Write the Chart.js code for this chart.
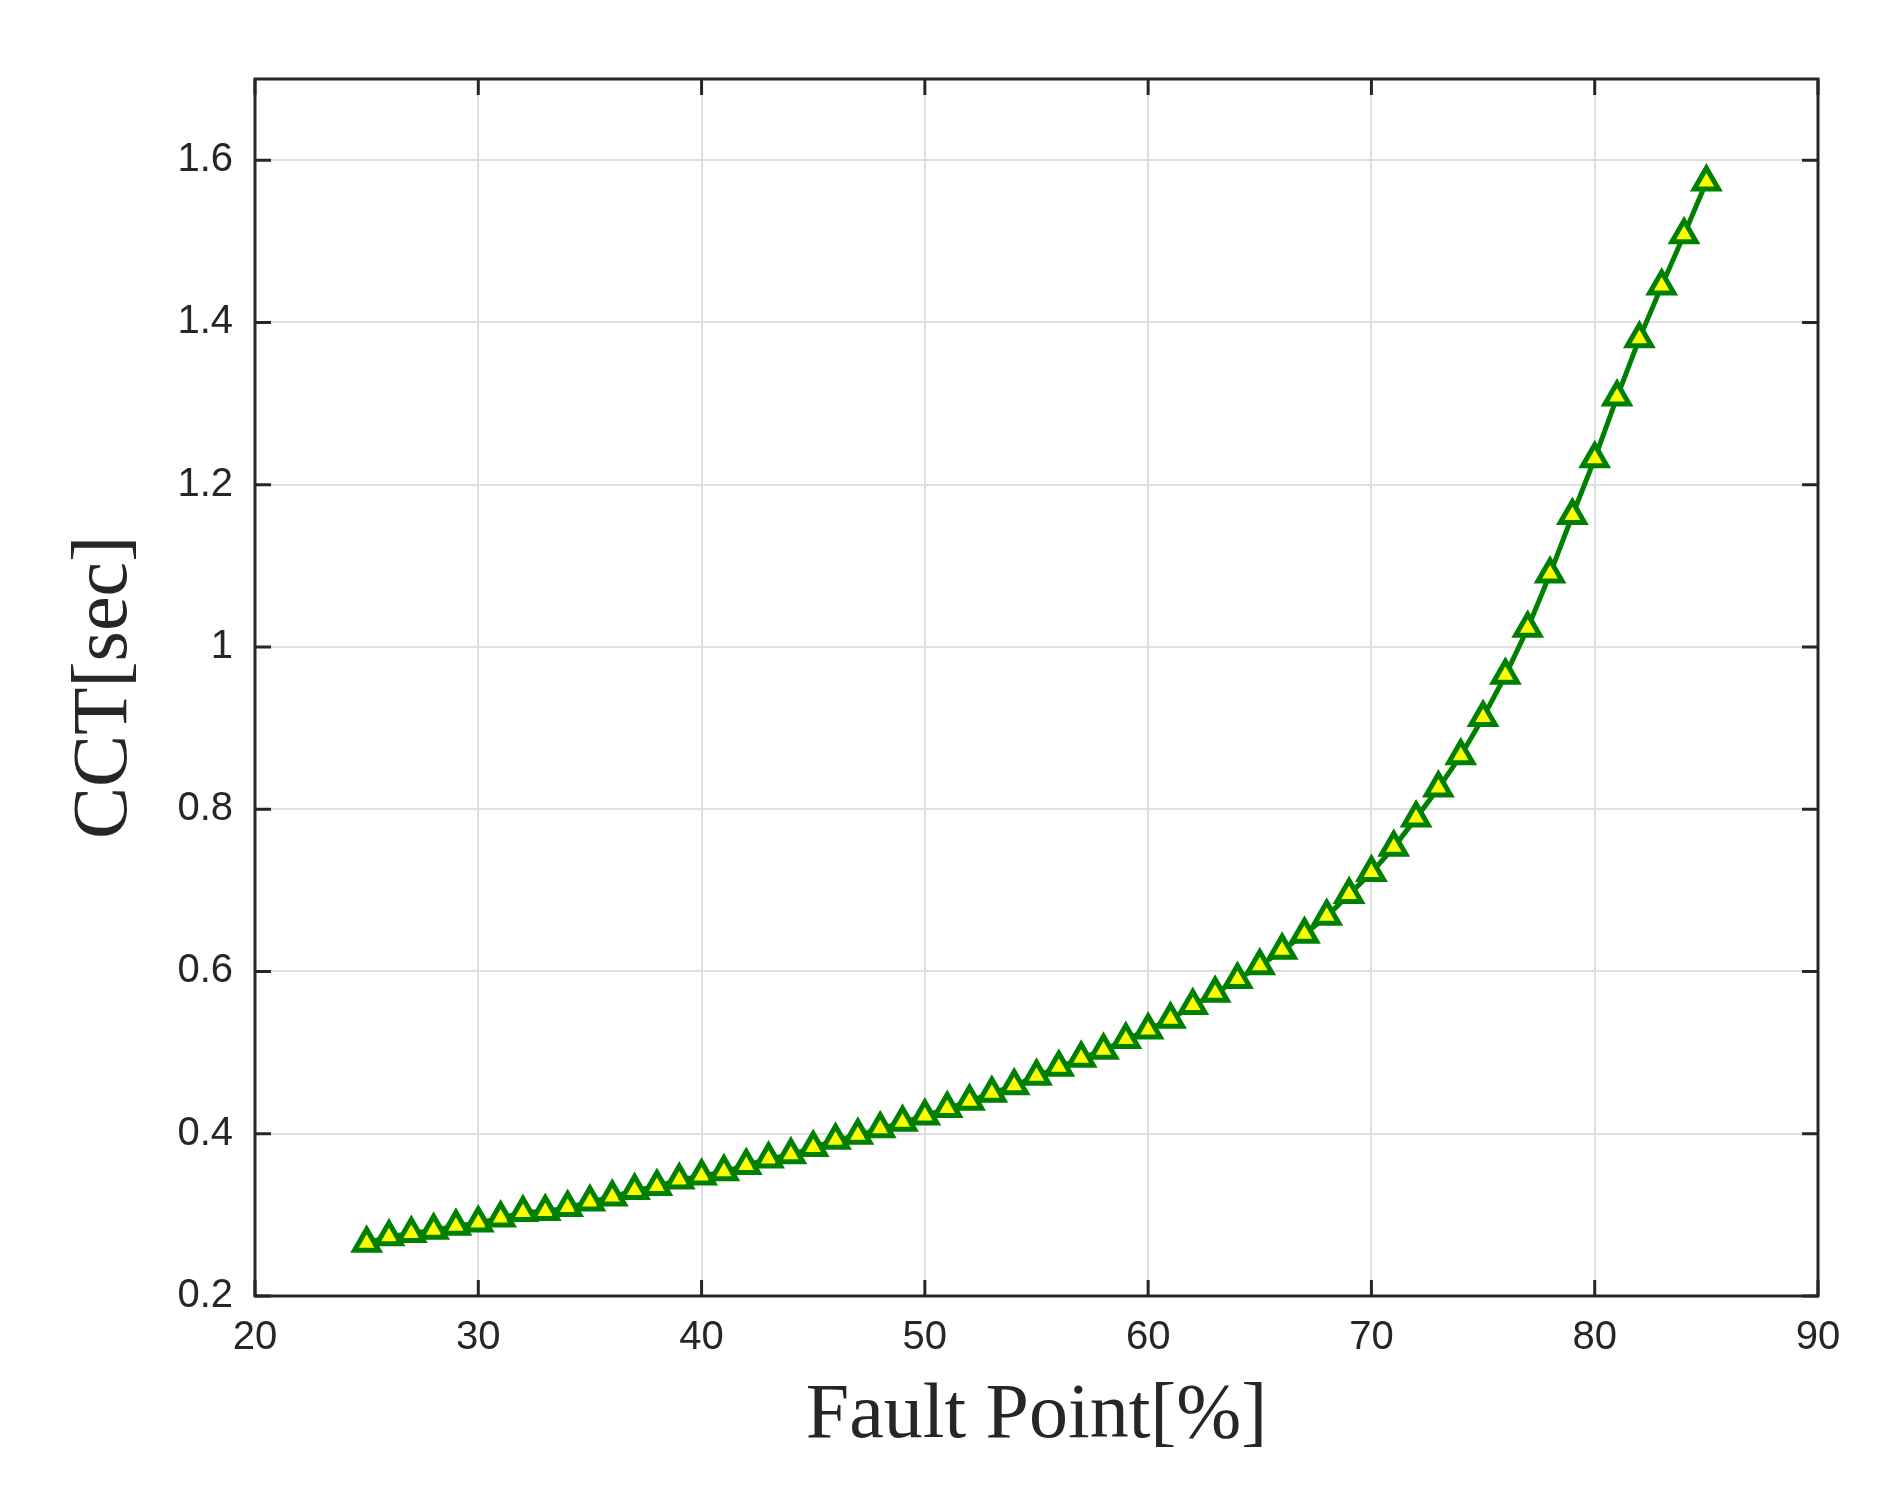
<!DOCTYPE html>
<html>
<head>
<meta charset="utf-8">
<script src="https://cdn.jsdelivr.net/npm/chart.js@4"></script>
<style>
  html, body { margin: 0; background: #fff; }
  #wrap { width: 1903px; height: 1507px; }
</style>
</head>
<body>
<div id="wrap"><canvas id="c"></canvas></div>
<script>
const faultPoint = [25, 26, 27, 28, 29, 30, 31, 32, 33, 34, 35, 36, 37, 38, 39, 40, 41, 42, 43, 44, 45, 46, 47, 48, 49, 50, 51, 52, 53, 54, 55, 56, 57, 58, 59, 60, 61, 62, 63, 64, 65, 66, 67, 68, 69, 70, 71, 72, 73, 74, 75, 76, 77, 78, 79, 80, 81, 82, 83, 84, 85];
const cct = [0.265, 0.273, 0.277, 0.281, 0.286, 0.290, 0.296, 0.303, 0.304, 0.309, 0.316, 0.322, 0.330, 0.335, 0.343, 0.348, 0.353, 0.361, 0.369, 0.374, 0.383, 0.392, 0.398, 0.406, 0.414, 0.422, 0.431, 0.440, 0.450, 0.459, 0.471, 0.482, 0.493, 0.503, 0.516, 0.528, 0.541, 0.558, 0.573, 0.590, 0.607, 0.626, 0.646, 0.668, 0.695, 0.722, 0.753, 0.789, 0.826, 0.866, 0.913, 0.965, 1.023, 1.090, 1.162, 1.232, 1.308, 1.380, 1.445, 1.508, 1.573];
const xTicks = [20, 30, 40, 50, 60, 70, 80, 90];
const yTicks = [0.2, 0.4, 0.6, 0.8, 1, 1.2, 1.4, 1.6];

const ink = "#262626";

// MATLAB-style box with inward ticks on all four sides
const boxPlugin = {
  id: "box",
  afterDatasetsDraw(chart) {
    const { ctx, chartArea: a, scales } = chart;
    ctx.save();
    ctx.strokeStyle = ink;
    ctx.lineWidth = 3;
    ctx.strokeRect(a.left, a.top, a.right - a.left, a.bottom - a.top);
    const len = 16;
    ctx.beginPath();
    xTicks.forEach((t) => {
      const x = scales.x.getPixelForValue(t);
      ctx.moveTo(x, a.bottom); ctx.lineTo(x, a.bottom - len);
      ctx.moveTo(x, a.top); ctx.lineTo(x, a.top + len);
    });
    yTicks.forEach((t) => {
      const y = scales.y.getPixelForValue(t);
      ctx.moveTo(a.left, y); ctx.lineTo(a.left + len, y);
      ctx.moveTo(a.right, y); ctx.lineTo(a.right - len, y);
    });
    ctx.stroke();
    ctx.restore();
  }
};

new Chart(document.getElementById("c"), {
  type: "line",
  data: {
    datasets: [{
      data: faultPoint.map((x, i) => ({ x, y: cct[i] })),
      borderColor: "#008000",
      borderWidth: 5,
      backgroundColor: "#ffff00",
      pointStyle: "triangle",
      pointRadius: 14,
      pointBorderWidth: 5,
      pointBorderColor: "#008000",
      pointBackgroundColor: "#ffff00",
      tension: 0
    }]
  },
  options: {
    responsive: true,
    maintainAspectRatio: false,
    animation: false,
    events: [],
    layout: { padding: { top: 79, right: 85, left: 55, bottom: 40 } },
    plugins: { legend: { display: false }, tooltip: { enabled: false } },
    scales: {
      x: {
        type: "linear",
        min: 20, max: 90,
        afterBuildTicks(s) { s.ticks = xTicks.map((v) => ({ value: v })); },
        afterFit(s) { s.height = 171; },
        grid: { color: "#dfdfdf", lineWidth: 2, drawTicks: false },
        border: { display: false },
        ticks: { color: ink, padding: 18, font: { family: "Liberation Sans, Arial", size: 40 } },
        title: {
          display: true, text: "Fault Point[%]", color: ink,
          font: { family: "Liberation Serif, serif", size: 78 }, padding: { top: 0 }
        }
      },
      y: {
        min: 0.2, max: 1.7,
        afterBuildTicks(s) { s.ticks = yTicks.map((v) => ({ value: v })); },
        afterFit(s) { s.width = 200; },
        grid: { color: "#dfdfdf", lineWidth: 2, drawTicks: false },
        border: { display: false },
        ticks: { color: ink, padding: 22, font: { family: "Liberation Sans, Arial", size: 40 },
          callback: (v) => String(v) },
        title: {
          display: true, text: "CCT[sec]", color: ink,
          font: { family: "Liberation Serif, serif", size: 78 }, padding: { bottom: 0 }
        }
      }
    }
  },
  plugins: [boxPlugin]
});
</script>
</body>
</html>
